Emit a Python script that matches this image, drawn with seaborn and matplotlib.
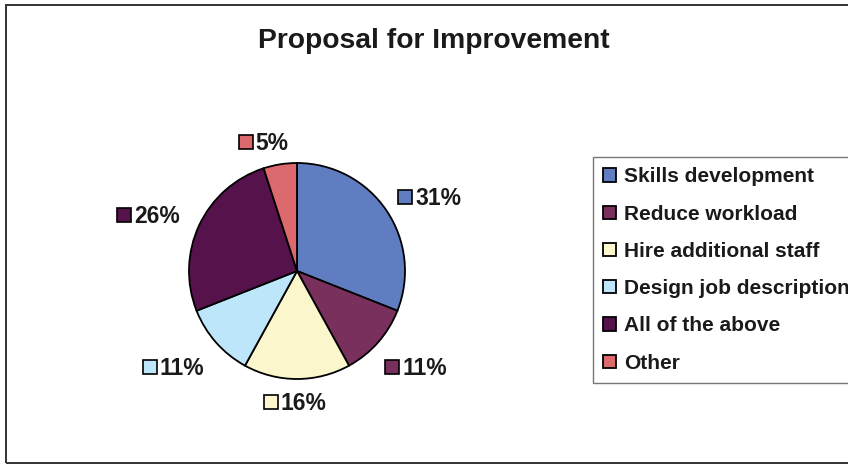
import matplotlib
matplotlib.use("Agg")
import matplotlib.pyplot as plt
import matplotlib.patches as mpatches
import numpy as np
import seaborn as sns

# Survey answers: share of respondents per proposal (%)
categories = ["Skills development", "Reduce workload", "Hire additional staff",
              "Design job description", "All of the above", "Other"]
shares = [31, 11, 16, 11, 26, 5]
slice_colors = ["#617DC1", "#7A305C", "#FCF6CC", "#BEE6FA", "#55124B", "#DC696E"]

sns.set_theme(style="white")
plt.rcParams["font.family"] = ["Liberation Sans", "DejaVu Sans"]

W, H = 848, 466
fig = plt.figure(figsize=(W / 100, H / 100), dpi=100)
fig.patch.set_facecolor("white")

# Axes spans the whole canvas so that one data unit equals one pixel
ax = fig.add_axes([0, 0, 1, 1])

cx, cy, R = 297, H - 271, 108
wedges, _ = ax.pie(shares, colors=sns.color_palette(slice_colors), startangle=90,
                   counterclock=False, center=(cx, cy), radius=R, frame=True,
                   wedgeprops=dict(edgecolor="black", linewidth=1.3))
ax.set_xlim(0, W)
ax.set_ylim(0, H)
ax.set_aspect("equal")
ax.axis("off")

# Percentage labels with a small colour key, pushed outward from each slice
lab_fs = 16.5
half_w, half_h = 33, 10
for w, v, c in zip(wedges, shares, slice_colors):
    ang = np.deg2rad((w.theta1 + w.theta2) / 2)
    ca, sa = np.cos(ang), np.sin(ang)
    lx = cx + R * 1.12 * ca + (half_w + 8) * ca
    ly = cy + R * 1.12 * sa + half_h * sa - 18 * abs(ca) * max(0.0, -sa)
    x0 = lx - half_w
    ax.plot([x0 + 7], [ly], marker="s", markersize=9.5, markerfacecolor=c,
            markeredgecolor="black", markeredgewidth=1.2, linestyle="none")
    ax.text(x0 + 17, ly - 1.5, f"{v}%", fontsize=lab_fs, fontweight="bold",
            ha="left", va="center", color="#1a1a1a")

fig.text(434 / W, 1 - 41 / H, "Proposal for Improvement", fontsize=20.3,
         fontweight="bold", ha="center", va="center", color="#1a1a1a")

leg = ax.legend(wedges, categories, loc="upper left",
                bbox_to_anchor=(593 / W, 1 - 157 / H), bbox_transform=fig.transFigure,
                borderaxespad=0, frameon=True, fancybox=False, shadow=False,
                prop=dict(size=15, weight="bold"), handlelength=0.6,
                handleheight=0.6, handletextpad=0.4, labelspacing=0.875,
                borderpad=0.5)
leg.get_frame().set_edgecolor("#555555")
leg.get_frame().set_linewidth(1.0)
for t in leg.get_texts():
    t.set_color("#1a1a1a")

# Chart-area border (open to the right)
fig.add_artist(mpatches.Rectangle((6 / W, 3 / H), 1.1, (H - 8) / H,
                                  transform=fig.transFigure, fill=False,
                                  edgecolor="#333333", linewidth=1.4))

fig.savefig("out.png", dpi=100, facecolor="white")
